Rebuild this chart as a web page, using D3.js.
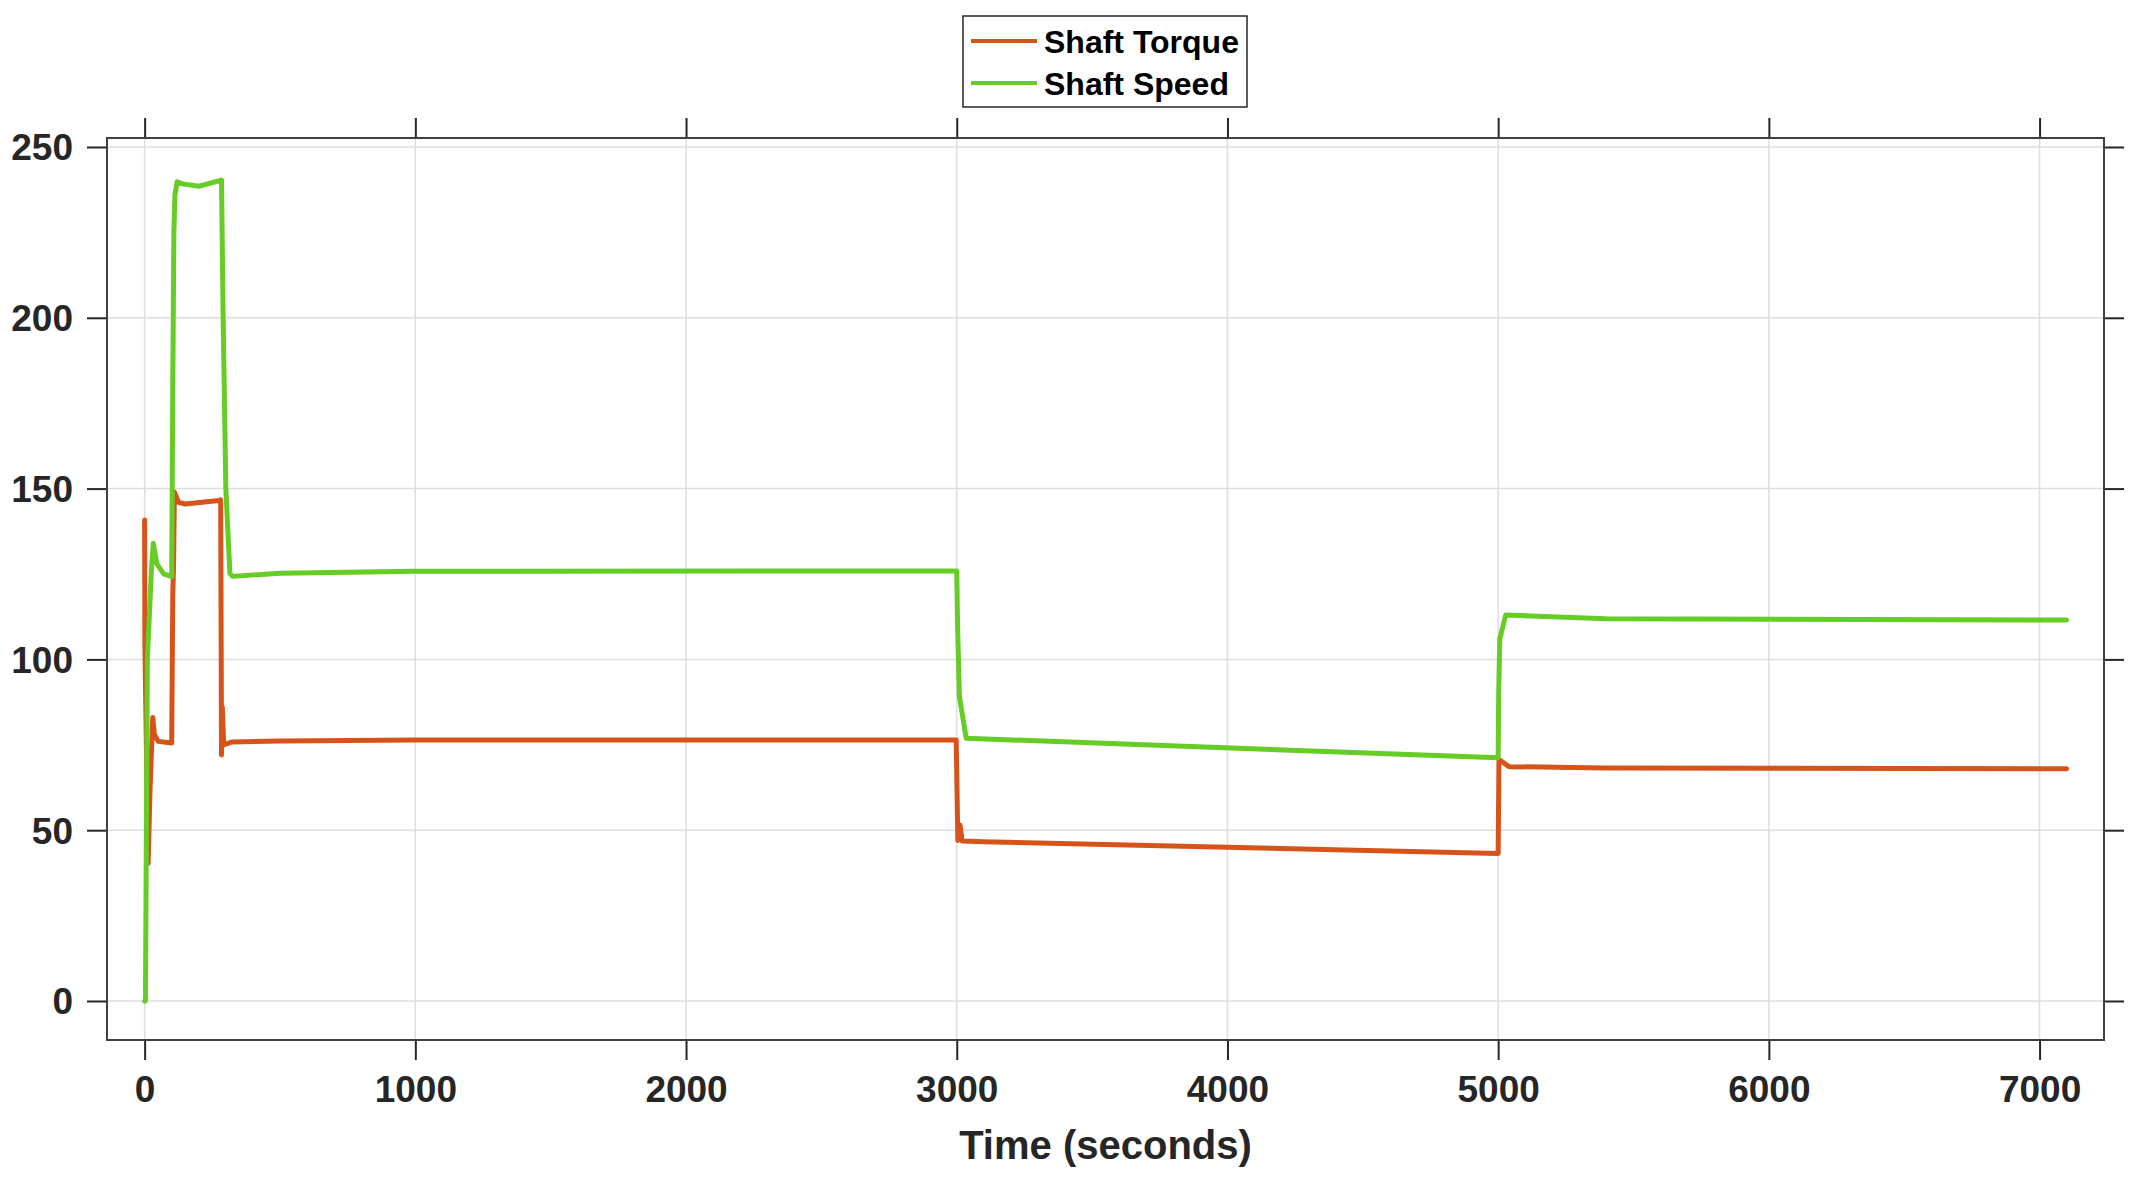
<!DOCTYPE html>
<html>
<head>
<meta charset="utf-8">
<script src="https://cdn.jsdelivr.net/npm/d3@7"></script>
<style>
  html, body { margin: 0; padding: 0; background: #ffffff; }
  svg { display: block; }
</style>
</head>
<body>
<svg id="chart" width="2139" height="1182"></svg>
<script>
// ---- Data ----
const seriesNames = ["Shaft Torque", "Shaft Speed"];
const torqueTime  = [0, 1, 8, 13, 20, 30, 36, 50, 100, 104, 107, 110, 125, 150, 275, 281, 284, 287, 292, 320, 500, 1000, 2998, 3004, 3012, 3020, 3100, 5000, 5003, 5040, 5400, 7100];
const torqueValue = [140.8, 104, 67, 40.3, 62, 83, 78, 76, 75.5, 119, 128, 149, 146, 145.5, 146.5, 146.7, 72, 86, 75, 75.8, 76.1, 76.4, 76.4, 47, 51.5, 46.8, 46.6, 43.2, 70.7, 68.6, 68.2, 68.0];
const speedTime   = [0, 3, 10, 25, 32, 45, 70, 100, 104, 108, 112, 120, 140, 200, 284, 290, 300, 315, 325, 500, 1000, 3000, 3003, 3010, 3035, 5000, 5002, 5006, 5028, 5400, 7100];
const speedValue  = [0, 0, 100, 126, 134, 128, 125, 124.2, 180, 224.8, 236, 239.8, 239.2, 238.5, 240.3, 200, 150, 125.2, 124.3, 125.2, 125.8, 125.9, 110, 89, 76.9, 71.2, 90, 106, 113, 111.9, 111.5];
const xTicks = [0, 1000, 2000, 3000, 4000, 5000, 6000, 7000];
const yTicks = [0, 50, 100, 150, 200, 250];
const xLabel = "Time (seconds)";

const colors = { torque: "#D6531A", speed: "#66CC26" };

// ---- Layout ----
const svg = d3.select("#chart");
const L = 107, R = 2104, T = 138, B = 1040;
const x = d3.scaleLinear().domain([-139, 7238]).range([L, R]);
const y = d3.scaleLinear().domain([-11.42, 252.63]).range([B, T]);

const font = "'Liberation Sans', Arial, Helvetica, sans-serif";
const ink = "#262626";

// Grid
const grid = svg.append("g");
grid.selectAll("line.gx").data(xTicks).enter().append("line")
  .attr("x1", d => x(d)).attr("x2", d => x(d))
  .attr("y1", T).attr("y2", B)
  .attr("stroke", "#dedede").attr("stroke-width", 1.5);
grid.selectAll("line.gy").data(yTicks).enter().append("line")
  .attr("x1", L).attr("x2", R)
  .attr("y1", d => y(d)).attr("y2", d => y(d))
  .attr("stroke", "#dedede").attr("stroke-width", 1.5);

// Axes (ticks outward on all four sides)
const tickLen = 20;
const axB = svg.append("g").attr("transform", `translate(0,${B})`)
  .call(d3.axisBottom(x).tickValues(xTicks).tickSize(tickLen).tickPadding(16).tickFormat(d3.format("d")));
const axT = svg.append("g").attr("transform", `translate(0,${T})`)
  .call(d3.axisTop(x).tickValues(xTicks).tickSize(tickLen).tickFormat(""));
const axL = svg.append("g").attr("transform", `translate(${L},0)`)
  .call(d3.axisLeft(y).tickValues(yTicks).tickSize(tickLen).tickPadding(14).tickFormat(d3.format("d")));
const axR = svg.append("g").attr("transform", `translate(${R},0)`)
  .call(d3.axisRight(y).tickValues(yTicks).tickSize(tickLen).tickFormat(""));
[axB, axT, axL, axR].forEach(a => {
  a.select(".domain").remove();
  a.selectAll(".tick line").attr("stroke", ink).attr("stroke-width", 2);
  a.selectAll(".tick text").attr("fill", ink).attr("font-family", font)
    .attr("font-weight", "bold").attr("font-size", 37);
});
axB.selectAll(".tick text").attr("dy", "0.71em");
axL.selectAll(".tick text").attr("dy", "0.35em");

// Box
svg.append("rect").attr("x", L).attr("y", T).attr("width", R - L).attr("height", B - T)
  .attr("fill", "none").attr("stroke", "#404040").attr("stroke-width", 2);

// Lines
svg.append("clipPath").attr("id", "clip").append("rect")
  .attr("x", L).attr("y", T).attr("width", R - L).attr("height", B - T);
const line = d3.line().x(d => x(d[0])).y(d => y(d[1]));
const torque = torqueTime.map((t, i) => [t, torqueValue[i]]);
const speed = speedTime.map((t, i) => [t, speedValue[i]]);
const plot = svg.append("g").attr("clip-path", "url(#clip)");
plot.append("path").datum(torque).attr("d", line)
  .attr("fill", "none").attr("stroke", colors.torque).attr("stroke-width", 5)
  .attr("stroke-linejoin", "round").attr("stroke-linecap", "round");
plot.append("path").datum(speed).attr("d", line)
  .attr("fill", "none").attr("stroke", colors.speed).attr("stroke-width", 5)
  .attr("stroke-linejoin", "round").attr("stroke-linecap", "round");

// X label
svg.append("text").attr("x", (L + R) / 2).attr("y", 1159)
  .attr("text-anchor", "middle").attr("font-family", font).attr("font-weight", "bold")
  .attr("font-size", 40).attr("fill", ink).text(xLabel);

// Legend
const lg = svg.append("g");
lg.append("rect").attr("x", 963).attr("y", 16).attr("width", 284).attr("height", 91)
  .attr("fill", "#ffffff").attr("stroke", "#262626").attr("stroke-width", 1.5);
const legendRows = [
  { name: seriesNames[0], color: colors.torque, cy: 41 },
  { name: seriesNames[1], color: colors.speed, cy: 83 }
];
legendRows.forEach(r => {
  lg.append("line").attr("x1", 971).attr("x2", 1037).attr("y1", r.cy).attr("y2", r.cy)
    .attr("stroke", r.color).attr("stroke-width", 4);
  lg.append("text").attr("x", 1044).attr("y", r.cy).attr("dy", "0.36em")
    .attr("font-family", font).attr("font-weight", "bold").attr("font-size", 32)
    .attr("fill", "#000").text(r.name);
});
</script>
</body>
</html>
